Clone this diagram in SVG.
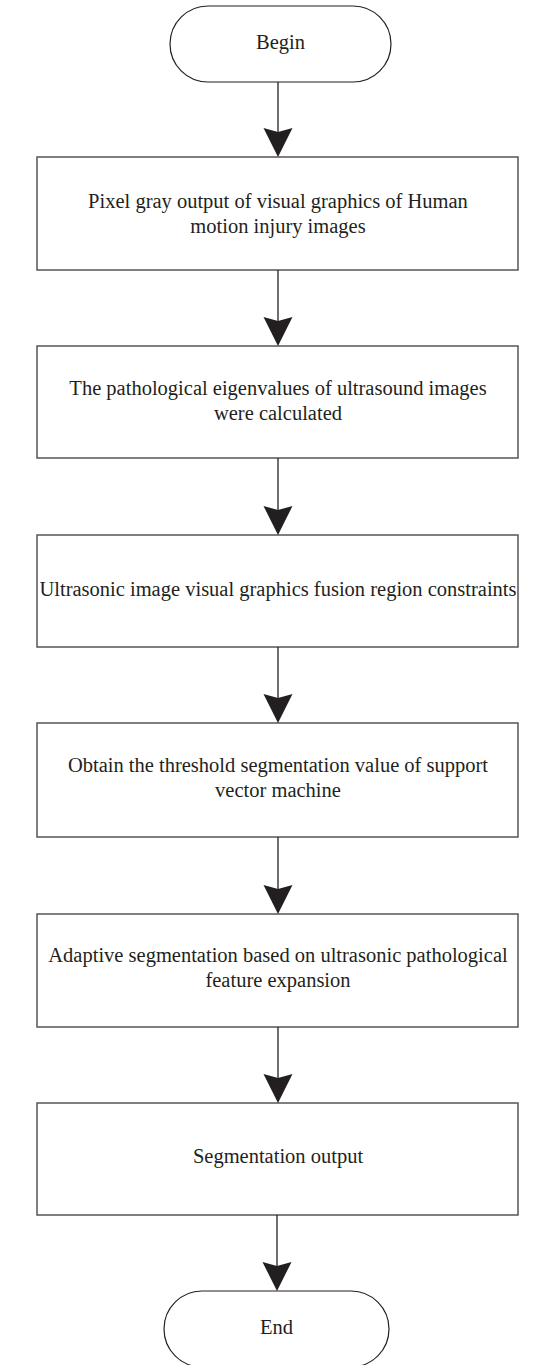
<svg xmlns="http://www.w3.org/2000/svg" width="540" height="1365" viewBox="0 0 540 1365">
<defs>
<style>
.box{fill:#fff;stroke:#555;stroke-width:1.5}
.term{fill:#fff;stroke:#231f20;stroke-width:1.2}
.t{font-family:"Liberation Serif","Times New Roman",serif;font-size:20.5px;fill:#231f20;text-anchor:middle}
.c{stroke:#231f20;stroke-width:1.3;fill:none}
.ah{fill:#231f20}
</style>
</defs>
<rect width="540" height="1365" fill="#fff"/>
<g id="begin"><rect class="term" x="170" y="6" width="221" height="76" rx="38" ry="38"/><text class="t" x="280.5" y="49">Begin</text></g>
<g id="step1"><rect class="box" x="37" y="157" width="481" height="113"/><text class="t" x="278" y="208">Pixel gray output of visual graphics of Human</text><text class="t" x="278" y="232.5">motion injury images</text></g>
<g id="step2"><rect class="box" x="37" y="346" width="481" height="112"/><text class="t" x="278" y="395">The pathological eigenvalues of ultrasound images</text><text class="t" x="278" y="420">were calculated</text></g>
<g id="step3"><rect class="box" x="37" y="535" width="481" height="112"/><text class="t" x="278" y="596">Ultrasonic image visual graphics fusion region constraints</text></g>
<g id="step4"><rect class="box" x="37" y="723" width="481" height="114"/><text class="t" x="278" y="772">Obtain the threshold segmentation value of support</text><text class="t" x="278" y="797">vector machine</text></g>
<g id="step5"><rect class="box" x="37" y="914" width="481" height="113"/><text class="t" x="278" y="962">Adaptive segmentation based on ultrasonic pathological</text><text class="t" x="278" y="987">feature expansion</text></g>
<g id="step6"><rect class="box" x="37" y="1103" width="481" height="112"/><text class="t" x="278" y="1163">Segmentation output</text></g>
<g id="end"><rect class="term" x="164" y="1291" width="225" height="76" rx="38" ry="38"/><text class="t" x="276.5" y="1334">End</text></g>
<g id="connectors">
<line class="c" x1="278" y1="82" x2="278" y2="135"/><polygon class="ah" points="278,157 263.5,128 278,132 292.5,128"/>
<line class="c" x1="278" y1="270" x2="278" y2="324"/><polygon class="ah" points="278,346 263.5,317 278,321 292.5,317"/>
<line class="c" x1="278" y1="458" x2="278" y2="513"/><polygon class="ah" points="278,535 263.5,506 278,510 292.5,506"/>
<line class="c" x1="278" y1="647" x2="278" y2="701"/><polygon class="ah" points="278,723 263.5,694 278,698 292.5,694"/>
<line class="c" x1="278" y1="837" x2="278" y2="892"/><polygon class="ah" points="278,914 263.5,885 278,889 292.5,885"/>
<line class="c" x1="278" y1="1027" x2="278" y2="1081"/><polygon class="ah" points="278,1103 263.5,1074 278,1078 292.5,1074"/>
<line class="c" x1="277" y1="1215" x2="277" y2="1269"/><polygon class="ah" points="277,1291 262.5,1262 277,1266 291.5,1262"/>
</g>
</svg>
